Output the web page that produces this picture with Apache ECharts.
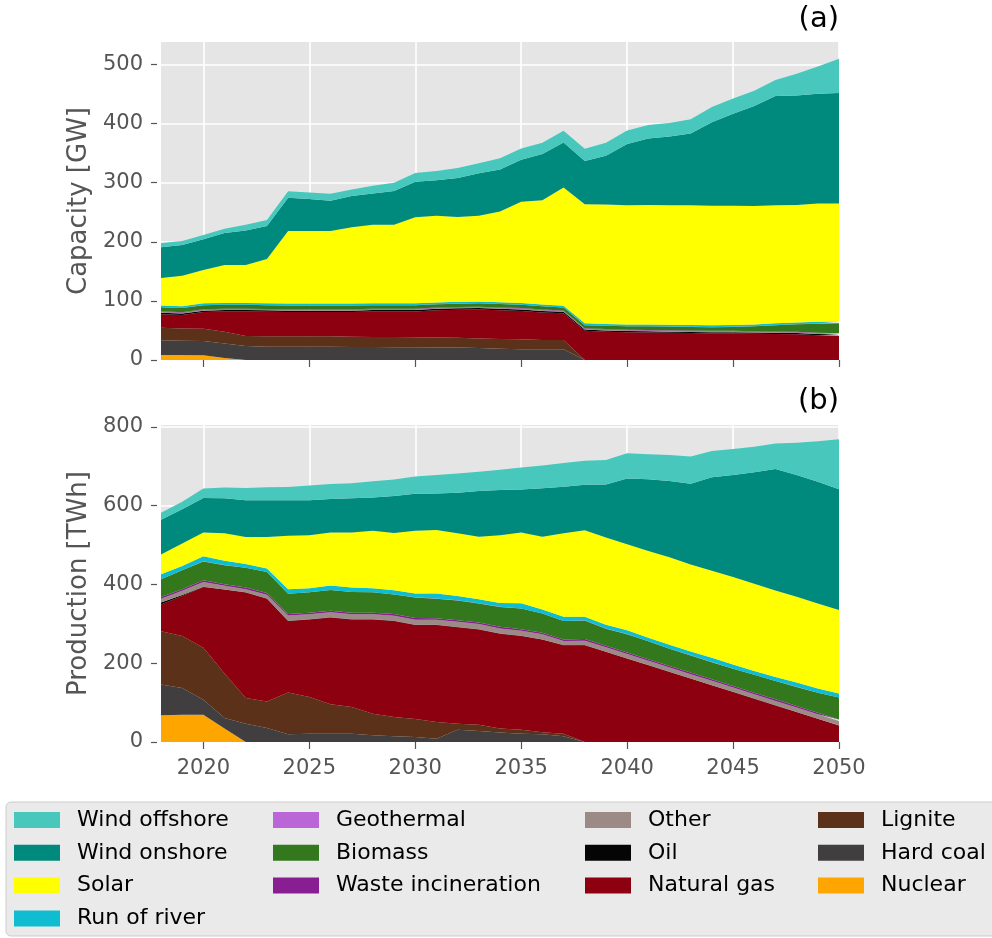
<!DOCTYPE html>
<html>
<head>
<meta charset="utf-8">
<title>Capacity and production</title>
<script src="https://cdn.jsdelivr.net/npm/echarts@6/dist/echarts.min.js"></script>
<style>
  html, body { margin: 0; padding: 0; background: #fff; }
  #chart { width: 992px; height: 938px; }
</style>
</head>
<body>
<div id="chart"></div>
<script>
  // years on the x axis
  const years = [2018, 2019, 2020, 2021, 2022, 2023, 2024, 2025, 2026, 2027, 2028, 2029, 2030, 2031, 2032, 2033,
    2034, 2035, 2036, 2037, 2038, 2039, 2040, 2041, 2042, 2043, 2044, 2045, 2046, 2047, 2048, 2049, 2050];

  const capTicks = [0, 100, 200, 300, 400, 500];
  const prodTicks = [0, 200, 400, 600, 800];

  // (a) installed capacity [GW]
  const capNuclear = [8.5, 8.5, 8, 3.5, 0, 0, 0, 0, 0, 0, 0, 0, 0, 0, 0, 0, 0, 0, 0, 0, 0, 0, 0, 0, 0, 0, 0, 0, 0, 0, 0, 0, 0];
  const capHardCoal = [25, 24, 24, 24.5, 23.5, 22.5, 22.5, 22.5, 22.5, 22, 22, 21.5, 21.5, 21, 21, 20.5, 19, 18, 18, 18, 0, 0, 0, 0, 0, 0, 0, 0, 0, 0, 0, 0, 0];
  const capLignite = [21, 21, 21, 20, 17, 17.5, 17.5, 17.5, 17.5, 17.5, 17, 17.5, 17, 17, 16.5, 16, 16.5, 17, 16, 16, 0, 0, 0, 0, 0, 0, 0, 0, 0, 0, 0, 0, 0];
  const capGas = [23, 22.5, 28, 34, 41.5, 41.5, 41, 41, 41, 41.5, 43, 43, 43.5, 46, 47.5, 49, 48.5, 48, 46.5, 45, 49.5, 48, 47, 46.5, 46, 45.5, 45, 45, 44.5, 44, 43.5, 42, 41];
  const capOil = [2.5, 2.5, 2.5, 2.5, 2.5, 2.5, 2.5, 2.5, 2.5, 2.5, 2.5, 2.5, 2.5, 2.5, 2.5, 2.5, 2.5, 2.5, 2.5, 2.5, 2, 2, 2, 2, 2, 2, 2, 2, 2, 2, 2, 2, 2];
  const capOther = [1.5, 1.5, 1.5, 1.5, 1.5, 1.5, 1.5, 1.5, 1.5, 1.5, 1.5, 1.5, 1.5, 1.5, 1.5, 1.5, 1.5, 1.5, 1.5, 1.5, 1.5, 1.5, 1.5, 1.5, 1.5, 1.5, 1.5, 1.5, 1.5, 1.5, 1.5, 1.5, 1.5];
  const capWaste = [0.8, 0.8, 0.8, 0.8, 0.8, 0.8, 0.8, 0.8, 0.8, 0.8, 0.8, 0.8, 0.8, 0.8, 0.8, 0.8, 0.8, 0.8, 0.8, 0.8, 0.8, 0.8, 0.8, 0.8, 0.8, 0.8, 0.8, 0.8, 0.8, 0.8, 0.8, 0.8, 0.8];
  const capBiomass = [7, 7, 7, 6.5, 6.5, 6.5, 6.5, 6.5, 6.5, 6.5, 6, 6, 6, 5.5, 5.5, 5.5, 6, 5.5, 5.5, 5, 5.2, 5.7, 5.7, 6.2, 6.2, 6.2, 6.2, 6.7, 8.2, 10.7, 12.7, 15.2, 16.7];
  const capGeothermal = [0.1, 0.1, 0.1, 0.1, 0.1, 0.1, 0.1, 0.1, 0.1, 0.1, 0.1, 0.1, 0.1, 0.1, 0.1, 0.1, 0.1, 0.1, 0.1, 0.1, 0.1, 0.1, 0.1, 0.1, 0.1, 0.1, 0.1, 0.1, 0.1, 0.1, 0.1, 0.1, 0.1];
  const capRunOfRiver = [3, 3, 3, 3, 3, 3, 3, 3, 3, 3, 3, 3, 3, 3, 3, 3, 3, 3, 3, 3, 3, 3, 3, 3, 3, 3, 3, 3, 3, 3, 3, 3, 3];
  const capSolar = [46.5, 51.5, 56.5, 64.5, 64.5, 75, 123, 123, 123, 129, 133, 133, 145.5, 146.5, 143.5, 145, 153.5, 171.5, 176.5, 200, 201.5, 202, 201.7, 202, 202, 202.5, 202.5, 202, 200.5, 199.5, 198.8, 200, 199.5];
  const capWindOn = [52, 52, 52, 54, 58, 56, 56, 54, 51, 53, 53, 57, 60, 60, 66, 72, 71, 71, 78, 76, 73, 82.5, 103.5, 112.5, 116.5, 121.5, 141, 155.5, 169, 185, 185, 186, 187];
  const capWindOff = [7, 7, 7, 7, 10, 10, 11, 11, 12, 11, 13, 14, 15, 16, 17, 17, 19, 19, 19, 20, 21, 22, 23, 23, 23, 24, 26, 26, 26, 27, 37, 46, 58];

  // (b) production [TWh]
  const prodNuclear = [68, 69.5, 69.5, 34, 0, 0, 0, 0, 0, 0, 0, 0, 0, 0, 0, 0, 0, 0, 0, 0, 0, 0, 0, 0, 0, 0, 0, 0, 0, 0, 0, 0, 0];
  const prodHardCoal = [78, 67.5, 38, 27, 46.6, 35.6, 19.5, 21, 21, 21, 17, 14.4, 12.7, 8.5, 31, 28, 24, 21, 19.5, 14.4, 0, 0, 0, 0, 0, 0, 0, 0, 0, 0, 0, 0, 0];
  const prodLignite = [135, 132, 132, 113, 65, 67, 106, 93, 75, 68, 55, 49, 46, 42.5, 15.6, 16, 10, 10, 5.5, 6.6, 0, 0, 0, 0, 0, 0, 0, 0, 0, 0, 0, 0, 0];
  const prodGas = [68, 102, 154, 213, 268, 261, 182, 197, 220, 222, 239, 244, 238.5, 246, 245, 242, 241, 238, 235, 225, 246, 229, 212, 195, 178, 161, 144, 127, 110, 93, 76, 59, 42];
  const prodOil = [5, 2, 1, 0.5, 0.5, 0.5, 0.5, 0.5, 0.5, 0.5, 0.5, 0.5, 0.5, 0.5, 0.5, 0.5, 0.5, 0.5, 0.5, 0.5, 0.3, 0.3, 0.3, 0.3, 0.3, 0.3, 0.3, 0.3, 0.3, 0.3, 0.3, 0.3, 0.3];
  const prodOther = [10, 11, 12, 9, 8, 10, 13, 13, 13, 13, 13, 13, 13, 13, 13, 13, 13, 13, 13, 10, 11, 11, 11, 11, 11, 11, 11, 11, 11, 11, 11, 11, 11];
  const prodWaste = [4, 4, 4, 4, 4, 4, 4, 4, 4, 4, 4, 4, 4, 4, 4, 4, 4, 4, 4, 4, 4, 4, 4, 4, 4, 4, 4, 4, 4, 4, 4, 4, 4];
  const prodBiomass = [45, 48, 48, 48.5, 50.5, 53.5, 51.5, 51.5, 52.5, 52.5, 51.5, 49.5, 52.5, 49.5, 50.5, 48.5, 50.5, 52.5, 48.5, 46.5, 47.5, 43.5, 46.5, 45.5, 43.5, 43.5, 43.5, 43.5, 45.5, 46.5, 48.5, 50.5, 55.5];
  const prodGeothermal = [0.2, 0.2, 0.2, 0.2, 0.2, 0.2, 0.2, 0.2, 0.2, 0.2, 0.2, 0.2, 0.2, 0.2, 0.2, 0.2, 0.2, 0.2, 0.2, 0.2, 0.2, 0.2, 0.2, 0.2, 0.2, 0.2, 0.2, 0.2, 0.2, 0.2, 0.2, 0.2, 0.2];
  const prodRunOfRiver = [13, 11, 13, 11, 9, 9, 11, 10, 11, 11, 10, 11, 10, 13, 11, 10, 10, 13, 10, 11, 9, 10, 10, 9, 10, 10, 11, 11, 9, 10, 11, 11, 10];
  const prodSolar = [50, 57, 60, 70, 69, 80, 136, 135, 135, 140, 146, 145, 159, 161, 159, 159, 172, 180, 185, 212, 220, 221, 218, 220, 222, 221, 221, 222, 222, 220, 218, 216, 212];
  const prodWindOn = [88, 87, 88, 89, 93, 93, 90, 89, 85, 87, 85, 94, 94, 93, 103, 116, 115, 109, 123, 118, 115, 135, 167, 182, 194, 205, 237, 259, 283, 308, 309, 309, 307];
  const prodWindOff = [18, 19, 24, 27, 31, 33, 34, 37, 38, 38, 41, 42, 44, 47, 49, 49, 51, 56, 58, 60, 61, 62, 64, 64, 66, 69, 67, 66, 65, 65, 82, 103, 127];

  // stacking order, bottom first
  const techs = ['Nuclear', 'Hard coal', 'Lignite', 'Natural gas', 'Oil', 'Other', 'Waste incineration',
    'Biomass', 'Geothermal', 'Run of river', 'Solar', 'Wind onshore', 'Wind offshore'];
  const colors = {
    'Nuclear': '#ffa500',
    'Hard coal': '#403e3f',
    'Lignite': '#5b3119',
    'Natural gas': '#8d000f',
    'Oil': '#050505',
    'Other': '#9b8a86',
    'Waste incineration': '#891e93',
    'Biomass': '#34781e',
    'Geothermal': '#bb66d6',
    'Run of river': '#10bdd0',
    'Solar': '#ffff00',
    'Wind onshore': '#008a7e',
    'Wind offshore': '#48c8bc'
  };
  const capData = [capNuclear, capHardCoal, capLignite, capGas, capOil, capOther, capWaste,
    capBiomass, capGeothermal, capRunOfRiver, capSolar, capWindOn, capWindOff];
  const prodData = [prodNuclear, prodHardCoal, prodLignite, prodGas, prodOil, prodOther, prodWaste,
    prodBiomass, prodGeothermal, prodRunOfRiver, prodSolar, prodWindOn, prodWindOff];

  const font = 'DejaVu Sans';
  const everyFive = function (idx, val) { return Number(val) % 5 === 0; };

  function makeSeries(data, axisIdx, stackName) {
    return techs.map(function (name, i) {
      return {
        name: name,
        type: 'line',
        stack: stackName,
        xAxisIndex: axisIdx,
        yAxisIndex: axisIdx,
        symbol: 'none',
        smooth: false,
        lineStyle: { width: 0, opacity: 0 },
        areaStyle: { color: colors[name], opacity: 1 },
        itemStyle: { color: colors[name] },
        data: data[i]
      };
    });
  }

  function xAxisOpt(gridIdx, showLabels) {
    return {
      type: 'category',
      gridIndex: gridIdx,
      data: years,
      boundaryGap: false,
      offset: 3,
      axisLine: { show: false },
      axisTick: { show: true, interval: everyFive, length: 7, lineStyle: { color: '#555', width: 1.2 } },
      axisLabel: { show: showLabels, interval: everyFive, color: '#555', fontSize: 21, fontFamily: font, margin: 13 },
      splitLine: { show: true, interval: everyFive, lineStyle: { color: '#fff', width: 1.6 } }
    };
  }

  function yAxisOpt(gridIdx, name, max, ticks) {
    return {
      type: 'value',
      gridIndex: gridIdx,
      min: 0,
      max: max,
      name: name,
      nameLocation: 'middle',
      nameGap: 60,
      nameTextStyle: { color: '#555', fontSize: 26, fontFamily: font },
      offset: 4,
      axisLine: { show: false },
      axisTick: { show: true, length: 6, customValues: ticks, lineStyle: { color: '#555', width: 1.2 } },
      axisLabel: { color: '#555', fontSize: 21, fontFamily: font, margin: 14, customValues: ticks },
      splitLine: { show: true, lineStyle: { color: '#fff', width: 1.6 } }
    };
  }

  function legendCol(left, names) {
    return {
      orient: 'vertical',
      left: left,
      top: 809,
      padding: 0,
      itemWidth: 46,
      itemHeight: 16,
      itemGap: 10.8,
      icon: 'rect',
      selectedMode: false,
      textStyle: { color: '#000', fontSize: 22, fontFamily: font, lineHeight: 22, padding: [0, 0, 0, 12] },
      data: names
    };
  }

  const chart = echarts.init(document.getElementById('chart'), null, { renderer: 'canvas' });
  chart.setOption({
    animation: false,
    backgroundColor: '#fff',
    title: [
      { text: '(a)', right: 153, top: 5, padding: 0, textStyle: { color: '#000', fontSize: 29, fontWeight: 'normal', fontFamily: font } },
      { text: '(b)', right: 153, top: 387, padding: 0, textStyle: { color: '#000', fontSize: 29, fontWeight: 'normal', fontFamily: font } }
    ],
    graphic: [
      {
        type: 'rect',
        z: 0,
        shape: { x: 6, y: 802, width: 1000, height: 134, r: 5 },
        style: { fill: '#eaeaea', stroke: '#cccccc', lineWidth: 1 }
      }
    ],
    legend: [
      legendCol(14, ['Wind offshore', 'Wind onshore', 'Solar', 'Run of river']),
      legendCol(273, ['Geothermal', 'Biomass', 'Waste incineration']),
      legendCol(585, ['Other', 'Oil', 'Natural gas']),
      legendCol(818, ['Lignite', 'Hard coal', 'Nuclear'])
    ],
    grid: [
      { left: 161, top: 42, width: 678, height: 318, show: true, backgroundColor: '#e5e5e5', borderWidth: 0 },
      { left: 161, top: 425, width: 678, height: 317, show: true, backgroundColor: '#e5e5e5', borderWidth: 0 }
    ],
    xAxis: [xAxisOpt(0, false), xAxisOpt(1, true)],
    yAxis: [
      yAxisOpt(0, 'Capacity [GW]', 538, capTicks),
      yAxisOpt(1, 'Production [TWh]', 805, prodTicks)
    ],
    series: makeSeries(capData, 0, 'cap').concat(makeSeries(prodData, 1, 'prod'))
  });
</script>
</body>
</html>
